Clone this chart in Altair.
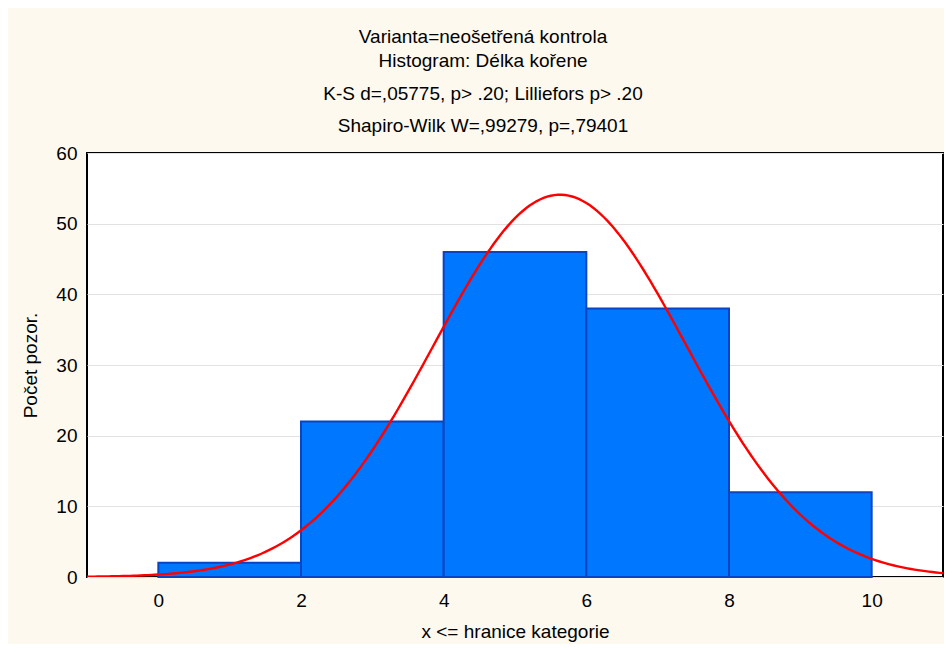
import altair as alt
import pandas as pd

# Histogram bins (upper limits, "x <= hranice kategorie") and counts
bin_start = [0, 2, 4, 6, 8]
bin_end = [2, 4, 6, 8, 10]
counts = [2, 22, 46, 38, 12]

# Fitted normal curve parameters
fit_mean = 5.63
fit_sd = 1.77
n_total = sum(counts)
bin_width = 2

x_ticks = [0, 2, 4, 6, 8, 10]
y_ticks = [0, 10, 20, 30, 40, 50, 60]

title_lines = ["Varianta=neošetřená kontrola", "Histogram: Délka kořene"]
subtitle_lines = ["K-S d=,05775, p> .20; Lilliefors p> .20",
                  "Shapiro-Wilk W=,99279, p=,79401"]

FONT = "Liberation Sans"
FS = 19

df = pd.DataFrame({"start": bin_start, "end": bin_end, "count": counts})

xscale = alt.Scale(domain=[-1, 11], nice=False, zero=False)
yscale = alt.Scale(domain=[0, 60], nice=False)

xaxis = alt.Axis(values=x_ticks, title="x <= hranice kategorie", grid=False,
                 ticks=False, domain=False, labelPadding=14, titlePadding=12,
                 labelFontSize=FS, titleFontSize=FS, labelColor="black",
                 titleColor="black", titleFontWeight="normal", labelFont=FONT,
                 titleFont=FONT)
yaxis = alt.Axis(values=y_ticks, title="Počet pozor.", grid=True,
                 gridColor="#e2e2e2", gridWidth=1,
                 ticks=False, domain=False, labelPadding=10, titlePadding=15,
                 labelFontSize=FS, titleFontSize=FS, labelColor="black",
                 titleColor="black", titleFontWeight="normal", labelFont=FONT,
                 titleFont=FONT)

bars = alt.Chart(df).mark_rect(
    fill="#0077ff", stroke="#0844c4", strokeWidth=2
).encode(
    x=alt.X("start:Q", scale=xscale, axis=xaxis),
    x2="end:Q",
    y=alt.Y("count:Q", scale=yscale, axis=yaxis),
    y2=alt.datum(0),
)

curve = alt.Chart(alt.sequence(-1, 11.001, 0.05, as_="xv")).transform_calculate(
    yv=f"{n_total * bin_width} / ({fit_sd} * sqrt(2*PI)) * exp(-0.5 * pow((datum.xv - {fit_mean}) / {fit_sd}, 2))"
).mark_line(color="#ff0000", strokeWidth=2.4, clip=True).encode(
    x=alt.X("xv:Q", scale=xscale, axis=xaxis),
    y=alt.Y("yv:Q", scale=yscale, axis=yaxis),
)

chart = alt.layer(bars, curve).properties(
    width=856,
    height=424,
    background="#fdf9ef",
    padding={"left": 79, "top": 145, "right": 1, "bottom": 67},
    autosize=alt.AutoSizeParams(type="none"),
    title=alt.TitleParams(
        text=title_lines,
        subtitle=subtitle_lines,
        font=FONT,
        subtitleFont=FONT,
        fontSize=FS,
        subtitleFontSize=FS,
        fontWeight="normal",
        color="black",
        subtitleColor="black",
        lineHeight=24,
        subtitleLineHeight=32,
        subtitlePadding=14,
        anchor="middle",
        dx=-32,
        offset=8,
    ),
).configure_view(
    fill="white", stroke="black", strokeWidth=2
)

chart.save("out.html", embed_options={"renderer": "svg", "actions": False})
